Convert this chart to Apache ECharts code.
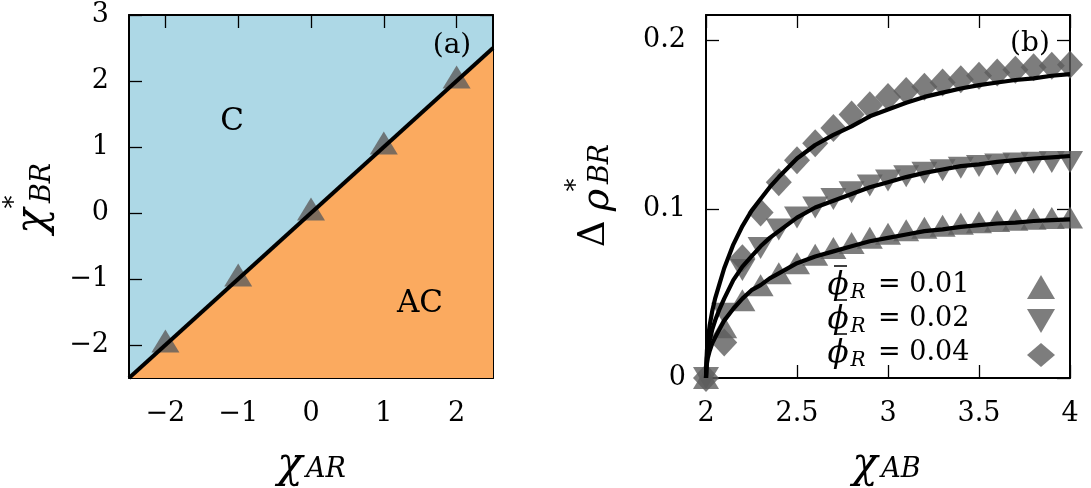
<!DOCTYPE html>
<html>
<head>
<meta charset="utf-8">
<script src="https://cdn.jsdelivr.net/npm/echarts@6/dist/echarts.min.js"></script>
<style>
  html, body { margin: 0; padding: 0; background: #fff; }
  #chart { width: 1091px; height: 488px; }
</style>
</head>
<body>
<div id="chart"></div>
<script>
// ---- Panel (a): phase diagram, C above the boundary, AC below ----
const chiAR = [-2, -1, 0, 1, 2];
const chiBRstar = [-2, -1, 0, 1, 2];
const boundaryX = [-2.5, 2.5];
const boundaryY = [-2.5, 2.5];
const ticksAx = [-2, -1, 0, 1, 2];
const ticksAy = [-2, -1, 0, 1, 2, 3];

// ---- Panel (b): density jump versus chi_AB ----
const chiAB = [2.0, 2.1, 2.2, 2.3, 2.4, 2.5, 2.6, 2.7, 2.8, 2.9, 3.0,
               3.1, 3.2, 3.3, 3.4, 3.5, 3.6, 3.7, 3.8, 3.9, 4.0];
const drho01 = [0, 0.030, 0.046, 0.055, 0.062, 0.068, 0.073, 0.077, 0.080, 0.083, 0.0855,
                0.0875, 0.089, 0.0902, 0.0913, 0.0922, 0.0930, 0.0937, 0.0943, 0.0947, 0.0950];
const drho02 = [0, 0.038, 0.064, 0.077, 0.088, 0.095, 0.101, 0.106, 0.110, 0.114, 0.117,
                0.1195, 0.1215, 0.123, 0.1245, 0.1255, 0.1265, 0.127, 0.1275, 0.128, 0.128];
const drho04 = [0, 0.021, 0.071, 0.098, 0.116, 0.129, 0.139, 0.148, 0.156, 0.1615, 0.1665,
                0.170, 0.1725, 0.175, 0.177, 0.179, 0.181, 0.1825, 0.184, 0.185, 0.1856];
// theory curves
const fitX  = [2.0, 2.002, 2.005, 2.01, 2.02, 2.035, 2.05, 2.075, 2.1, 2.15, 2.2, 2.25, 2.3, 2.35, 2.4,
               2.5, 2.6, 2.7, 2.8, 2.9, 3.0, 3.1, 3.2, 3.3, 3.4, 3.5, 3.6, 3.7, 3.8, 3.9, 4.0];
const fit01 = [0, 0.0047, 0.0085, 0.0118, 0.016, 0.0207, 0.024, 0.029, 0.034, 0.041, 0.047, 0.052, 0.055, 0.059, 0.062,
               0.068, 0.072, 0.075, 0.078, 0.081, 0.083, 0.085, 0.087, 0.088, 0.0895, 0.0905, 0.0915, 0.092, 0.093, 0.0935, 0.094];
const fit02 = [0, 0.0066, 0.012, 0.0164, 0.022, 0.029, 0.034, 0.041, 0.047, 0.058, 0.066, 0.072, 0.078, 0.083, 0.087,
               0.095, 0.101, 0.105, 0.109, 0.113, 0.116, 0.119, 0.1215, 0.1235, 0.1255, 0.1265, 0.128, 0.129, 0.130, 0.1307, 0.1315];
const fit04 = [0, 0.009, 0.016, 0.0225, 0.031, 0.040, 0.047, 0.056, 0.065, 0.079, 0.090, 0.099, 0.106, 0.113, 0.119,
               0.130, 0.138, 0.144, 0.149, 0.155, 0.159, 0.163, 0.1665, 0.169, 0.1715, 0.1735, 0.175, 0.1765, 0.1775, 0.179, 0.180];
const ticksBy = [0, 0.1, 0.2];
const phiValues = ['0.01', '0.02', '0.04'];

const SERIF = '"DejaVu Serif", "Liberation Serif", serif';
const MARK = '#5c5c5c';
const pairs = (xs, ys) => xs.map((x, i) => [x, ys[i]]);
const minus = v => (v < 0 ? '\u2212' + Math.abs(v) : String(v));

function axisBase(extra) {
  return Object.assign({
    type: 'value',
    axisLine: { show: true, onZero: false, lineStyle: { color: '#000', width: 2 } },
    axisTick: { show: true, inside: true, length: 13, lineStyle: { color: '#000', width: 1.3 } },
    splitLine: { show: false },
    axisLabel: { color: '#000', fontFamily: SERIF, fontSize: 27 }
  }, extra);
}
function withTicks(ax, values, fmt, showLabel) {
  ax.axisTick.customValues = values;
  ax.axisLabel.customValues = values;
  ax.axisLabel.formatter = fmt;
  ax.axisLabel.show = showLabel;
  return ax;
}

const xAxes = [
  withTicks(axisBase({ gridIndex: 0, min: -2.5, max: 2.5, position: 'bottom' }), ticksAx, minus, true),
  withTicks(axisBase({ gridIndex: 0, min: -2.5, max: 2.5, position: 'top' }), ticksAx, minus, false),
  axisBase({ gridIndex: 1, min: 2, max: 4, interval: 0.5, position: 'bottom' }),
  axisBase({ gridIndex: 1, min: 2, max: 4, interval: 0.5, position: 'top' })
];
xAxes[0].axisLabel.margin = 22;
xAxes[2].axisLabel.margin = 22;
xAxes[3].axisLabel.show = false;

const yAxes = [
  withTicks(axisBase({ gridIndex: 0, min: -2.5, max: 3, position: 'left' }), ticksAy, minus, true),
  withTicks(axisBase({ gridIndex: 0, min: -2.5, max: 3, position: 'right' }), ticksAy, minus, false),
  withTicks(axisBase({ gridIndex: 1, min: 0, max: 0.215, position: 'left' }), ticksBy, v => String(v), true),
  withTicks(axisBase({ gridIndex: 1, min: 0, max: 0.215, position: 'right' }), ticksBy, v => String(v), false)
];
yAxes[0].axisLabel.margin = 20;
yAxes[2].axisLabel.margin = 20;

const downTri = 'path://M0,0L2,0L1,1.7Z';

function fitLine(ys) {
  return {
    type: 'line', xAxisIndex: 2, yAxisIndex: 2, data: pairs(fitX, ys),
    smooth: false, symbol: 'none', z: 5,
    lineStyle: { color: '#000', width: 4.2, join: 'round' }, silent: true
  };
}

const series = [
  // AC region under the boundary
  {
    type: 'line', xAxisIndex: 0, yAxisIndex: 0, data: pairs(boundaryX, boundaryY),
    symbol: 'none', z: 1, lineStyle: { width: 0 },
    areaStyle: { color: '#fbaa5f', opacity: 1, origin: 'start' }
  },
  {
    name: 'transition', type: 'scatter', xAxisIndex: 0, yAxisIndex: 0,
    data: pairs(chiAR, chiBRstar), symbol: 'triangle', symbolSize: [28, 23],
    symbolOffset: [0, -4], itemStyle: { color: MARK }, z: 3
  },
  {
    type: 'line', xAxisIndex: 0, yAxisIndex: 0, data: pairs(boundaryX, boundaryY),
    symbol: 'none', z: 5, lineStyle: { color: '#000', width: 4 }
  },
  {
    name: 'p01', type: 'scatter', xAxisIndex: 2, yAxisIndex: 2, data: pairs(chiAB, drho01),
    symbol: 'triangle', symbolSize: [26, 22], itemStyle: { color: MARK }, clip: false, z: 3
  },
  {
    name: 'p02', type: 'scatter', xAxisIndex: 2, yAxisIndex: 2, data: pairs(chiAB, drho02),
    symbol: downTri, symbolSize: [26, 22], itemStyle: { color: MARK }, clip: false, z: 3
  },
  {
    name: 'p04', type: 'scatter', xAxisIndex: 2, yAxisIndex: 2, data: pairs(chiAB, drho04),
    symbol: 'diamond', symbolSize: [26, 28], itemStyle: { color: MARK }, clip: false, z: 3
  },
  fitLine(fit01), fitLine(fit02), fitLine(fit04)
];

function txt(x, y, text, size, opts) {
  opts = opts || {};
  return {
    type: 'text', x: x, y: y, rotation: opts.rot || 0, z: 10,
    style: Object.assign({
      text: text, fontFamily: SERIF, fontSize: size, fill: '#000',
      align: opts.align || 'center', verticalAlign: 'middle'
    }, opts.style || {})
  };
}
const it = { style: { fontStyle: 'italic' } };
const itR = { rot: Math.PI / 2, style: { fontStyle: 'italic' } };
const R = { rot: Math.PI / 2 };

const graphics = [
  txt(232, 122, 'C', 31),
  txt(420, 304, 'AC', 31),
  txt(452, 46, '(a)', 28),
  txt(1030, 44, '(b)', 28),
  // x-axis titles
  txt(290, 466, '\u03c7', 42, it),
  txt(326, 470, 'AR', 27, it),
  txt(865, 466, '\u03c7', 42, it),
  txt(901, 470, 'AB', 27, it),
  // y-axis title, panel (a)
  txt(34, 221, '\u03c7', 42, itR),
  txt(15, 202, '*', 26, R),
  txt(43, 183, 'BR', 27, itR),
  // y-axis title, panel (b)
  txt(594, 234, '\u0394', 37, R),
  txt(598, 200, '\u03c1', 38, itR),
  txt(577, 185, '*', 26, R),
  txt(601, 164, 'BR', 27, itR)
];

// legend labels: phi-bar with subscript R, then the value
const legendRowY = [285, 319, 353];
legendRowY.forEach((y, i) => {
  graphics.push(txt(838, y + 1, '\u03d5', 31, it));
  graphics.push({
    type: 'line', z: 10,
    shape: { x1: 834, y1: y - 19, x2: 847, y2: y - 19 },
    style: { stroke: '#000', lineWidth: 1.5 }
  });
  graphics.push(txt(858, y + 8, 'R', 20, it));
  graphics.push(txt(878, y, '= ' + phiValues[i], 27, { align: 'left' }));
});

const chart = echarts.init(document.getElementById('chart'), null, { renderer: 'canvas' });
chart.setOption({
  animation: false,
  backgroundColor: '#fff',
  grid: [
    { left: 129, top: 15, width: 364, height: 363, show: true, backgroundColor: '#add8e6', borderWidth: 0 },
    { left: 706, top: 15, width: 364, height: 363 }
  ],
  xAxis: xAxes,
  yAxis: yAxes,
  legend: {
    data: ['p01', 'p02', 'p04'],
    orient: 'vertical', right: 36, top: 275,
    itemWidth: 28, itemHeight: 24, itemGap: 10, padding: 0,
    formatter: () => '',
    textStyle: { fontSize: 1 },
    selectedMode: false
  },
  graphic: graphics,
  series: series
});
</script>
</body>
</html>
